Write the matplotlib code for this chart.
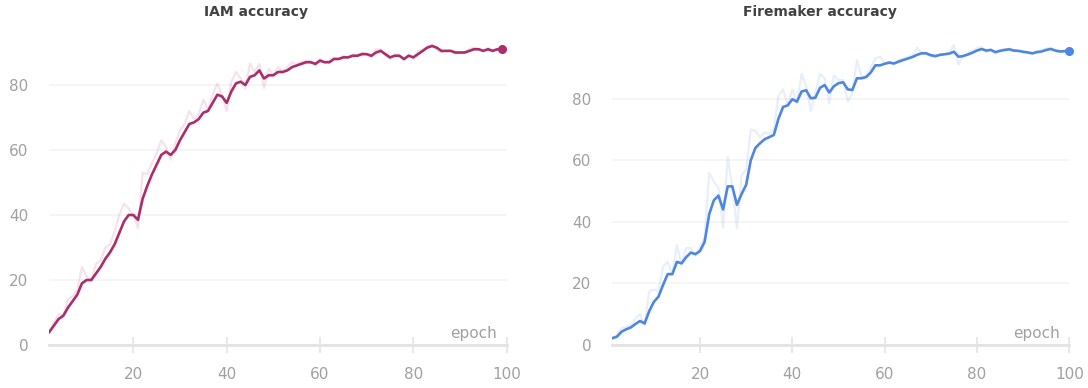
import matplotlib.pyplot as plt

# IAM run: epochs 2..99, smoothed curve and raw values
iam_epochs = list(range(2, 100))
iam_smooth = [
    4, 6, 8, 9, 11.5, 13.5, 15.5, 19, 20, 20,
    22, 24, 26.5, 28.5, 31, 34.5, 38, 40, 40, 38.5,
    45, 49, 52.5, 55.5, 58.5, 59.5, 58.5, 60, 63, 65.5,
    68, 68.5, 69.5, 71.5, 72, 74.5, 77, 76.5, 74.5, 78,
    80.5, 81, 80, 82.5, 83, 84.5, 82, 83, 83, 84,
    84, 84.5, 85.5, 86, 86.5, 87, 87, 86.5, 87.5, 87,
    87, 88, 88, 88.5, 88.5, 89, 89, 89.5, 89.5, 89,
    90, 90.5, 89.5, 88.5, 89, 89, 88, 89, 88.5, 89.5,
    90.5, 91.5, 92, 91.5, 90.5, 90.5, 90.5, 90, 90, 90,
    90.5, 91, 91, 90.5, 91, 90.5, 91, 91,
]
iam_raw = [
    4, 7, 9.5, 9, 14, 15, 17, 24, 21, 20,
    25, 26, 30, 31, 35, 40, 43.5, 42, 40, 36,
    53, 52.5, 56, 59, 63, 61, 57, 62, 66, 68,
    72, 69.5, 71, 75.5, 72.5, 77, 80.5, 77, 72, 81,
    84, 82, 79, 86.5, 84, 86.5, 79, 85, 83, 85.5,
    84, 85.5, 87, 86.5, 87, 87.5, 87.5, 86, 88, 87,
    87.5, 88.5, 88, 89, 88.5, 89.5, 89, 90, 89.5, 88.5,
    91, 91, 89, 88, 89.5, 89, 87.5, 89.5, 88, 90.5,
    91, 92, 92.5, 91, 90, 90.5, 90.5, 89.5, 90, 90,
    91, 91.5, 91, 90.5, 91.5, 90.5, 91, 91,
]

# Firemaker run: epochs 1..100
fm_epochs = list(range(1, 101))
fm_smooth = [
    2.2, 2.7, 4.3, 5.1, 5.7, 6.8, 7.8, 7.0, 11, 14,
    15.7, 19.5, 23, 23, 27, 26.5, 28.5, 30, 29.5, 30.5,
    33.5, 42.5, 47, 48.5, 44, 51.5, 51.5, 45.5, 49, 52,
    60, 64, 65.5, 66.8, 67.5, 68.2, 73.5, 77.3, 77.8, 79.8,
    79, 82.3, 82.7, 80.1, 80.3, 83.5, 84.4, 82, 84, 85,
    85.3, 83, 82.8, 86.6, 86.6, 87, 88.5, 90.8, 90.8, 91.3,
    91.7, 91.4, 92, 92.5, 93, 93.5, 94.2, 94.7, 94.7, 94.1,
    93.8, 94.2, 94.4, 94.6, 95.2, 93.6, 93.8, 94.3, 94.9, 95.6,
    96.1, 95.6, 95.8, 95.1, 95.5, 95.8, 96, 95.6, 95.5, 95.2,
    95, 94.7, 95.1, 95.3, 95.8, 96.1, 95.6, 95.3, 95.4, 95.5,
]
fm_raw = [
    2.2, 3, 5.5, 6, 6.5, 8.5, 10, 6.5, 17.5, 18,
    17.5, 25.5, 27, 23, 32.5, 26, 31.5, 31.5, 29, 32,
    35, 56, 53, 51, 38, 61, 51.5, 38, 55, 57,
    70, 69.5, 67.5, 69, 68.5, 70, 81, 83, 78, 83,
    78.5, 88, 84, 76, 82, 88, 86.5, 78.5, 87.5, 86,
    86, 79, 82, 92.5, 87, 87.5, 90, 93, 93.6, 91.5,
    92, 91, 92.5, 93, 93.5, 94, 96.5, 95, 94.5, 93.5,
    93.5, 94.5, 94.5, 95, 97.4, 91, 94, 94.7, 95.5, 96.5,
    96.8, 95, 96, 94.5, 95.8, 96, 96.2, 95.3, 95.4, 95,
    94.8, 94.5, 95.5, 95.5, 96.3, 96.5, 95.2, 95.1, 95.5, 95.6,
]

W, H = 1088, 388
fig = plt.figure(figsize=(W / 100, H / 100), dpi=100)

TICK_GREY = "#a0a0a0"
AXIS_GREY = "#e3e3e3"
GRID_GREY = "#f3f3f3"


def draw_panel(rect, epochs, raw, smooth, color, xlim, ylim, title, title_x):
    ax = fig.add_axes(rect)
    ax.plot(epochs, raw, color=color, alpha=0.13, lw=1.6, solid_joinstyle="round")
    ax.plot(epochs, smooth, color=color, lw=1.9, solid_joinstyle="round")
    # marker on the last logged value
    ax.plot(epochs[-1], smooth[-1], "o", color=color, ms=5.5, clip_on=False)

    ax.set_xlim(*xlim)
    ax.set_ylim(*ylim)
    ax.set_xticks([20, 40, 60, 80, 100])
    ax.set_yticks([0, 20, 40, 60, 80])
    ax.grid(axis="y", color=GRID_GREY, lw=1.2)
    ax.set_axisbelow(True)

    for side in ("top", "right", "left"):
        ax.spines[side].set_visible(False)
    ax.spines["bottom"].set_color(AXIS_GREY)
    ax.spines["bottom"].set_linewidth(2)

    ax.tick_params(axis="x", direction="inout", length=11, width=1.2,
                   color=AXIS_GREY, labelcolor=TICK_GREY, labelsize=11, pad=10)
    ax.tick_params(axis="y", length=0, labelcolor=TICK_GREY, labelsize=11, pad=15)

    ax.text(0.979, 0.022, "epoch", transform=ax.transAxes, ha="right",
            va="baseline", color=TICK_GREY, fontsize=11)

    fig.text(title_x / W, 1 - 12 / H, title, ha="center", va="center",
             fontsize=10, fontweight="bold", color="#424242")
    return ax


top_px, base_px = 30, 345
h = (base_px - top_px) / H
b = (H - base_px) / H

draw_panel([49.3 / W, b, 457.4 / W, h], iam_epochs, iam_raw, iam_smooth,
           "#ab2d69", (2, 100), (0, (base_px - top_px) / 3.25),
           "IAM accuracy", 256)
draw_panel([612.3 / W, b, 457.0 / W, h], fm_epochs, fm_raw, fm_smooth,
           "#4f86df", (1, 100), (0, (base_px - top_px) / 3.08),
           "Firemaker accuracy", 819.5)

fig.savefig("out.png", dpi=100)
